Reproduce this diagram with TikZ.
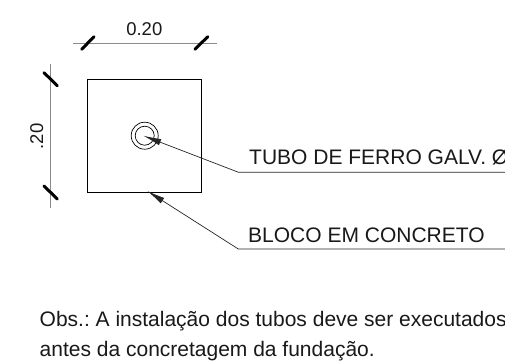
\documentclass[tikz,border=0pt]{standalone}
\usepackage{fontspec}
\setmainfont{Liberation Sans}
\usetikzlibrary{arrows.meta}
\tikzset{
  x=1pt,y=-1pt,
  block/.style={draw=black,line width=0.8pt,minimum width=114pt,minimum height=113.3pt,inner sep=0pt},
  tube/.style={circle,draw=black,line width=0.7pt,inner sep=0pt},
  dimline/.style={draw=black!45,line width=0.8pt},
  tick/.style={draw=black,line width=3pt,line cap=round},
  leader/.style={draw=black!85,line width=0.7pt},
  arrowed/.style={-{Latex[length=18pt,width=6.5pt]}},
  label/.style={inner sep=0pt,anchor=base west,text=black!90},
  big/.style={font=\fontsize{21}{24}\selectfont},
  dimtext/.style={inner sep=0pt,text=black!90,font=\fontsize{18.5}{20}\selectfont},
  note/.style={inner sep=0pt,anchor=base west,text=black!90,font=\frenchspacing\fontsize{21}{24}\selectfont},
}
\begin{document}
\begin{tikzpicture}
\useasboundingbox (0,0) rectangle (505,360);
\clip (0,0) rectangle (505,360);
\fill[white] (0,0) rectangle (505,360);
% block and pipe
\node[block] (bloco) at (144.5,135.7) {};
\node[tube,minimum size=27pt] (outer) at (144.7,135.7) {};
\node[tube,minimum size=19pt] (inner) at (144.7,135.7) {};
% dimensions
\coordinate (ta) at (72.7,43);
\coordinate (tb) at (216.7,43);
\draw[dimline] (ta) -- (tb);
\coordinate (t1a) at (81.7,49.3); \coordinate (t1b) at (94,36.7);
\coordinate (t2a) at (195,49.3); \coordinate (t2b) at (207.7,36.7);
\draw[tick] (t1a) -- (t1b);
\draw[tick] (t2a) -- (t2b);
\node[dimtext] (dimw) at (144.3,29.3) {0.20};
\coordinate (la) at (50.7,64);
\coordinate (lb) at (50.7,207.7);
\draw[dimline] (la) -- (lb);
\coordinate (l1a) at (44,72.7); \coordinate (l1b) at (57.3,85.7);
\coordinate (l2a) at (44,186); \coordinate (l2b) at (57.3,199);
\draw[tick] (l1a) -- (l1b);
\draw[tick] (l2a) -- (l2b);
\node[dimtext,rotate=90] (dimh) at (36.7,136.5) {.20};
% leaders
\coordinate (tubetip) at (143.3,135.7);
\coordinate (tubeknee) at (238.3,172.2);
\coordinate (tubeend) at (505,172.2);
\coordinate (blocotip) at (147.3,191);
\coordinate (blocoknee) at (238.3,249);
\coordinate (blocoend) at (505,249);
\draw[leader,arrowed] (tubeend) -- (tubeknee) -- (tubetip);
\draw[leader,arrowed] (blocoend) -- (blocoknee) -- (blocotip);
\node[label,big] (t1) at (249,164.3) {TUBO DE FERRO GALV. Ø};
\node[label,big] (t2) at (248,242.3) {BLOCO EM CONCRETO};
\node[note] (n1) at (39.5,326.7) {Obs.: A instalação dos tubos deve ser executados};
\node[note] (n2) at (39.5,356) {antes da concretagem da fundação.};
\end{tikzpicture}
\end{document}
